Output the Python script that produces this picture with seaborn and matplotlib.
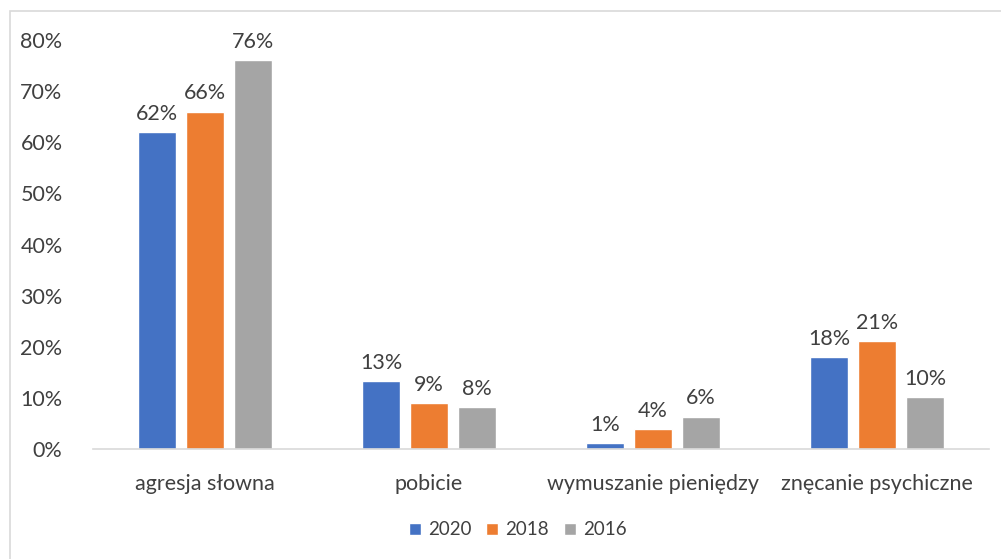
import pandas as pd
import matplotlib.pyplot as plt
import seaborn as sns
from matplotlib.patches import Rectangle

# --- DANE ---
kategorie = ["agresja słowna", "pobicie", "wymuszanie pieniędzy", "znęcanie psychiczne"]
lata = ["2020", "2018", "2016"]
wartosci_2020 = [0.62, 0.133, 0.012, 0.18]
wartosci_2018 = [0.66, 0.09, 0.039, 0.211]
wartosci_2016 = [0.76, 0.082, 0.063, 0.102]
kolory = ["#4472C4", "#ED7D31", "#A5A5A5"]
etykiety_y = ["0%", "10%", "20%", "30%", "40%", "50%", "60%", "70%", "80%"]

df = pd.DataFrame({
    "kategoria": kategorie * 3,
    "rok": [r for r in lata for _ in kategorie],
    "wartosc": wartosci_2020 + wartosci_2018 + wartosci_2016,
})

sns.set_theme(style="white")
plt.rcParams['font.family'] = ['Lato', 'DejaVu Sans']
TEKST = "#404040"
FS = 15.5

fig = plt.figure(figsize=(10.01, 5.59), dpi=100)
ax = fig.add_axes([0.093, 0.1968, 0.895, 0.7316])

sns.barplot(data=df, x="kategoria", y="wartosc", hue="rok", hue_order=lata,
            palette=kolory, width=0.643, gap=0.21, ax=ax, legend=True,
            saturation=1)

for cont in ax.containers:
    etyk = [f"{round(b.get_height() * 100)}%" for b in cont]
    ax.bar_label(cont, labels=etyk, padding=6, fontsize=FS, color=TEKST)

ax.set_ylim(0, 0.8)
ax.set_yticks([i / 10 for i in range(9)])
ax.set_yticklabels(etykiety_y)
ax.set_xlabel("")
ax.set_ylabel("")
ax.tick_params(axis="both", length=0, labelsize=FS, labelcolor=TEKST)
ax.tick_params(axis="y", pad=22)
ax.tick_params(axis="x", pad=18)
for s in ["top", "right", "left"]:
    ax.spines[s].set_visible(False)
ax.spines["bottom"].set_color("#D9D9D9")
ax.spines["bottom"].set_linewidth(1.2)

leg = ax.legend(loc="center", bbox_to_anchor=(0.474, -0.198), ncol=3, frameon=False,
                fontsize=13.5, handlelength=0.64, handleheight=0.64, handletextpad=0.37,
                columnspacing=0.8)
for t in leg.get_texts():
    t.set_color(TEKST)

# ramka wykresu
fig.patches.append(Rectangle((10 / 1001, -0.1), 1.2, 1 - 11 / 559 + 0.1,
                             transform=fig.transFigure, fill=False,
                             edgecolor="#D9D9D9", linewidth=1.2))

fig.savefig("out.png", dpi=100)
